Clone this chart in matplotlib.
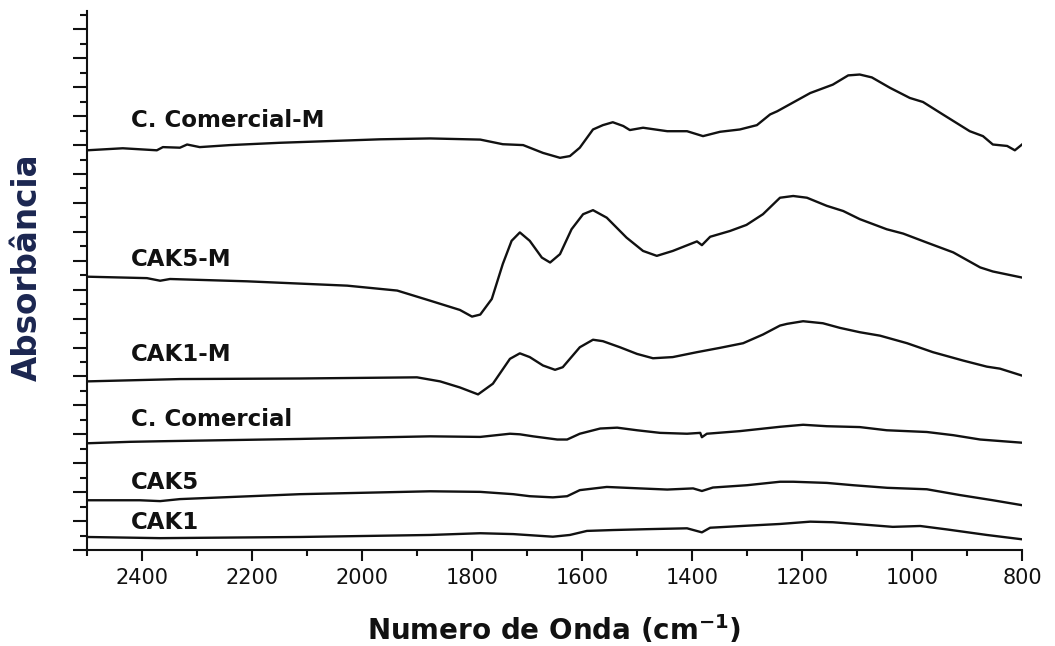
import numpy as np
import matplotlib
matplotlib.use("Agg")
import matplotlib.pyplot as plt
from matplotlib.ticker import MultipleLocator, NullFormatter

# espectros FTIR (numero de onda, absorbancia deslocada)
wn_ccm = [2500, 2435, 2373, 2362, 2331, 2318, 2295, 2240, 2149, 2027, 1967, 1876, 1785,
          1744, 1707, 1671, 1640, 1622, 1604, 1580, 1562, 1544, 1525, 1513, 1489, 1445,
          1409, 1380, 1349, 1313, 1282, 1258, 1245, 1185, 1144, 1116, 1095, 1073, 1040,
          1004, 980, 944, 895, 871, 853, 827, 813, 800]
ab_ccm = [13.82, 13.89, 13.82, 13.93, 13.91, 14.02, 13.93, 14.00, 14.08, 14.16, 14.20, 14.23, 14.19,
          14.03, 14.00, 13.73, 13.56, 13.62, 13.91, 14.54, 14.69, 14.79, 14.66, 14.52, 14.60, 14.48,
          14.48, 14.31, 14.46, 14.54, 14.69, 15.06, 15.17, 15.80, 16.09, 16.41, 16.44, 16.34, 15.98,
          15.63, 15.49, 15.06, 14.48, 14.31, 14.02, 13.97, 13.82, 14.02]

wn_cak5m = [2500, 2391, 2367, 2349, 2209, 2027, 1936, 1876, 1822, 1800, 1785, 1764, 1744,
            1728, 1713, 1695, 1673, 1658, 1640, 1619, 1598, 1580, 1555, 1519, 1489, 1464,
            1435, 1391, 1382, 1367, 1331, 1301, 1271, 1240, 1216, 1191, 1155, 1125, 1095,
            1046, 1016, 973, 925, 876, 853, 800]
ab_cak5m = [9.45, 9.40, 9.31, 9.37, 9.29, 9.14, 8.97, 8.62, 8.30, 8.07, 8.14, 8.68, 9.89,
            10.69, 10.98, 10.69, 10.11, 9.94, 10.23, 11.09, 11.61, 11.75, 11.49, 10.80, 10.34, 10.17,
            10.34, 10.67, 10.54, 10.83, 11.03, 11.24, 11.61, 12.18, 12.24, 12.18, 11.90, 11.72, 11.44,
            11.09, 10.94, 10.63, 10.29, 9.77, 9.63, 9.42]

wn_cak1m = [2500, 2331, 2113, 1900, 1858, 1822, 1789, 1762, 1731, 1713, 1695, 1671, 1649,
            1635, 1604, 1580, 1562, 1531, 1500, 1471, 1435, 1391, 1349, 1307, 1271, 1240,
            1227, 1198, 1162, 1131, 1095, 1058, 1009, 962, 907, 864, 840, 800]
ab_cak1m = [5.83, 5.91, 5.93, 5.97, 5.83, 5.62, 5.38, 5.75, 6.61, 6.80, 6.67, 6.38, 6.23,
            6.32, 7.01, 7.27, 7.22, 7.01, 6.78, 6.63, 6.67, 6.84, 6.99, 7.15, 7.45, 7.76,
            7.82, 7.91, 7.84, 7.68, 7.53, 7.41, 7.15, 6.84, 6.55, 6.34, 6.27, 6.03]

wn_cc = [2500, 2422, 2367, 2113, 1876, 1785, 1731, 1713, 1689, 1645, 1627, 1604, 1567,
         1536, 1500, 1458, 1409, 1385, 1382, 1373, 1313, 1240, 1198, 1155, 1095, 1046,
         973, 925, 876, 800]
ab_cc = [3.69, 3.74, 3.76, 3.84, 3.93, 3.91, 4.02, 4.00, 3.93, 3.82, 3.82, 4.02, 4.20,
         4.23, 4.14, 4.05, 4.02, 4.05, 3.90, 4.02, 4.11, 4.26, 4.33, 4.28, 4.25, 4.14,
         4.08, 3.97, 3.82, 3.71]

wn_cak5 = [2500, 2404, 2367, 2331, 2113, 1876, 1785, 1725, 1695, 1653, 1627, 1604, 1555,
           1495, 1445, 1398, 1382, 1362, 1300, 1240, 1216, 1155, 1107, 1045, 973, 913,
           853, 800]
ab_cak5 = [1.72, 1.72, 1.69, 1.76, 1.93, 2.03, 2.01, 1.93, 1.86, 1.82, 1.86, 2.07, 2.18,
           2.13, 2.09, 2.13, 2.04, 2.16, 2.24, 2.36, 2.36, 2.32, 2.24, 2.15, 2.10, 1.90,
           1.72, 1.55]

wn_cak1 = [2500, 2367, 2113, 1876, 1785, 1725, 1653, 1622, 1591, 1544, 1482, 1409, 1382,
           1367, 1300, 1240, 1185, 1144, 1095, 1035, 985, 936, 864, 800]
ab_cak1 = [0.45, 0.41, 0.45, 0.52, 0.58, 0.55, 0.46, 0.52, 0.66, 0.69, 0.72, 0.75, 0.61,
           0.77, 0.84, 0.90, 0.98, 0.96, 0.89, 0.80, 0.83, 0.71, 0.52, 0.37]

nomes = ["C. Comercial-M", "CAK5-M", "CAK1-M", "C. Comercial", "CAK5", "CAK1"]
pos_nome = [14.62, 9.83, 6.55, 4.28, 2.10, 0.72]

series = [(wn_ccm, ab_ccm), (wn_cak5m, ab_cak5m), (wn_cak1m, ab_cak1m),
          (wn_cc, ab_cc), (wn_cak5, ab_cak5), (wn_cak1, ab_cak1)]

fig = plt.figure(figsize=(10.55, 6.46), dpi=100)
ax = fig.add_axes([87 / 1055, 96 / 646, 935 / 1055, 539.4 / 646])

for (x, y), nome, yt in zip(series, nomes, pos_nome):
    ax.plot(x, y, color="#111111", lw=1.7, solid_joinstyle="round")
    ax.text(2420, yt, nome, fontsize=16.5, fontweight="bold", family="DejaVu Sans",
            color="#111111", ha="left", va="baseline")

ax.set_xlim(2500, 800)
ax.set_ylim(0, 18.65)

ax.xaxis.set_major_locator(MultipleLocator(200))
ax.xaxis.set_minor_locator(MultipleLocator(100))
ax.yaxis.set_major_locator(MultipleLocator(1))
ax.yaxis.set_minor_locator(MultipleLocator(0.5))
ax.yaxis.set_major_formatter(NullFormatter())

for s in ["top", "right"]:
    ax.spines[s].set_visible(False)
for s in ["left", "bottom"]:
    ax.spines[s].set_linewidth(1.5)
    ax.spines[s].set_color("#111111")

ax.tick_params(axis="x", which="major", direction="out", length=8, width=1.5,
               labelsize=15, pad=5, colors="#111111")
ax.tick_params(axis="x", which="minor", direction="out", length=4, width=1.5, colors="#111111")
ax.tick_params(axis="y", which="major", direction="out", length=10, width=1.5, colors="#111111")
ax.tick_params(axis="y", which="minor", direction="out", length=5, width=1.5, colors="#111111")

fig.text(554.5 / 1055, 6 / 646, r"Numero de Onda (cm$^{\mathbf{-1}}$)", fontsize=20,
         fontweight="bold", ha="center", va="baseline", color="#111111")
fig.text(27 / 1055, (646 - 267) / 646, "Absorbância", fontsize=23.5, fontweight="bold",
         rotation=90, ha="center", va="center", color="#1b2650")

fig.savefig("out.png", dpi=100)
